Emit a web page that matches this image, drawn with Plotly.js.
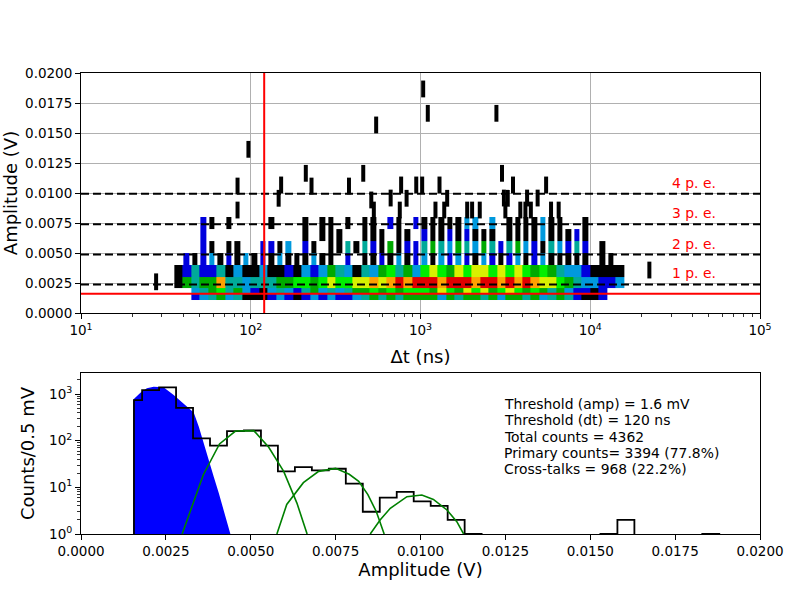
<!DOCTYPE html>
<html><head><meta charset="utf-8">
<script src="https://cdn.plot.ly/plotly-3.0.1.min.js"></script>
<style>html,body{margin:0;padding:0;background:#fff}#chart{width:800px;height:600px}</style>
</head><body><div id="chart"></div>
<script>
// ===== TOP PANEL: Amplitude vs Δt =====
// dense band: columns on a log10(ns) grid, rows between amplitude edges
// colour codes: 0 empty, 1 black, 2 blue, 3 light blue, 4 teal, 5 green, 6 bright green, 7 yellow, 8 orange, 9 red
const cellLog0 = 1.55, cellLogStep = 0.05;
const bandEdges = [0.0011, 0.0017, 0.0021, 0.0030, 0.0040, 0.0050, 0.0060, 0.0070, 0.0080];
const band0 = [0,0, 2,3,4,5,3,4,1,1,1,2,3,2,1,2,3,2,3,2,2,3,4,5,4,5,4,5,5, 5,5,3,5,4,5,5,4,5,3,5,5,4,5,3,4,5,4,2,1,1,2,0,0,0];
const band1 = [0,0, 3,4,5,6,4,5,3,2,1,3,4,3,2,4,5,3,4,3,4,5,5,6,5,6,5,6,6, 6,5,7,6,5,7,6,7,5,6,7,6,5,6,5,4,5,3,2,2,1,2,0,0,0];
const band2 = [1,5, 4,5,5,8,4,4,3,4,4,4,5,5,6,6,5,6,7,6,6,7,7,8,7,8,9,8,9, 9,9,8,9,9,9,8,9,9,8,9,8,9,8,7,7,6,5,4,3,3,2,2,3,0];
const band3 = [1,2, 4,2,2,4,1,3,1,1,3,1,1,2,1,3,2,3,5,4,3,1,4,3,5,6,4,5,3, 6,7,6,5,7,6,7,7,6,7,6,7,6,5,6,5,4,3,3,2,1,1,1,1,0];
const band4 = [0,2, 1,2,3,1,2,1,3,1,2,1,3,1,1,1,3,1,1,0,2,0,1,1,2,1,3,1,2, 3,1,3,2,3,2,1,3,2,1,2,3,1,2,3,1,1,1,1,1,0,1,1,0,0];
const band5 = [0,0, 0,2,1,0,1,1,0,0,2,2,1,3,0,2,1,0,1,1,4,1,4,2,1,5,1,2,2, 4,5,4,3,5,4,3,5,4,2,4,5,3,2,1,4,3,2,4,2,0,1,0,0,0];
const band6 = [0,0, 0,2,0,0,0,0,0,0,0,0,0,0,0,1,0,1,1,1,0,0,1,1,1,0,1,1,0, 2,1,1,2,1,2,1,1,1,0,1,1,1,1,3,1,1,1,2,1,0,0,0,0,0];
const band7 = [0,0, 0,2,1,0,1,0,0,0,0,1,0,0,0,1,0,1,1,0,1,0,1,1,0,2,1,0,2, 1,1,1,1,1,3,3,0,3,0,1,1,1,1,3,1,1,0,0,1,0,0,0,0,0];
const codeColors = ['#000000','#0000dd','#0099dd','#00aa99','#00aa00','#00ee00','#d8f000','#ffa000','#e00000'];

// isolated single events (black bars)
const sparseDt  = [27.7, 96.9, 548, 83.6, 83.6, 151, 146, 211, 228, 379, 460, 513, 531, 667, 769, 828, 944, 755,
                   1037, 1104, 2800, 3020, 1023, 1294, 1436, 3508, 3266, 4246, 4898, 5495, 3100, 1225, 1380,
                   1884, 2014, 2234, 3162, 3873, 4150, 4467, 5875, 6516, 22300];
const sparseAmp = [0.0026, 0.01364, 0.01567, 0.01058, 0.00858, 0.01067, 0.00956, 0.01164, 0.01058, 0.01058, 0.01164, 0.00942, 0.00858, 0.00958, 0.01067, 0.00956, 0.01067, 0.00858,
                   0.01867, 0.01664, 0.01664, 0.01164, 0.01067, 0.01067, 0.00956, 0.01067, 0.00956, 0.00958, 0.00958, 0.01067, 0.00958, 0.00858, 0.00858,
                   0.00858, 0.00858, 0.00858, 0.00858, 0.00858, 0.00858, 0.00858, 0.00858, 0.00858, 0.00358];

const peLevels = [0.00237, 0.00487, 0.00740, 0.00993];
const peLabels = ['1 p. e.', '2 p. e.', '3 p. e.', '4 p. e.'];
const peLabelAmp = [0.0033, 0.00575, 0.0083, 0.0108];
const thrAmp = 0.0016, thrDt = 120;
const dtTickVals = [10, 100, 1000, 10000, 100000];
const dtTickText = ['10<sup>1</sup>','10<sup>2</sup>','10<sup>3</sup>','10<sup>4</sup>','10<sup>5</sup>'];

// ===== BOTTOM PANEL: amplitude spectrum =====
const histFirstEdge = 0.00156, histStart = 0.0018, histWidth = 0.0005;
const histCounts = [740,1210,1390,505,112,78,160,165,78,22,27,23,25,12,3,6,8,5,4,2,1, 0,0,0,0,0,0,0, 1,2, 0,0,0,0, 1];
const blueX = [0.00155,0.00175,0.00194,0.00214,0.00243,0.00273,0.00302,0.00332,0.00347,0.00361,0.00376,0.00391,0.00406,0.00420,0.00432,0.00440];
const blueY = [769,1066,1320,1435,1390,951,630,400,199,88,38.5,16.9,7.45,3.27,1.7,1.0];
const g2X = [0.00298,0.00323,0.00360,0.00408,0.00455,0.00509,0.00553,0.00597,0.00636,0.00666];
const g2Y = [1,3.3,18.4,85,161,164,72,22,4.6,1];
const g3X = [0.00577,0.00606,0.00655,0.00700,0.00750,0.00790,0.00818,0.00845,0.00870,0.00893];
const g3Y = [1,4.3,12.6,22,25.5,19,13.5,7,3,1];
const g4X = [0.00852,0.00881,0.00911,0.00960,0.01004,0.01038,0.01078,0.01107,0.01127];
const g4Y = [1,2.0,3.55,6.3,6.85,5.5,3.27,1.84,1];
const infoLines = ['Threshold (amp) = 1.6 mV','Threshold (dt) = 120 ns','Total counts = 4362','Primary counts= 3394 (77.8%)','Cross-talks = 968 (22.2%)'];
const countTickVals = [1, 10, 100, 1000];
const countTickText = ['10<sup>0</sup>','10<sup>1</sup>','10<sup>2</sup>','10<sup>3</sup>'];

// ---------- build traces ----------
const bands = [band0, band1, band2, band3, band4, band5, band6, band7];
const nCols = band0.length;
const cellEdges = [];
for (let j = 0; j <= nCols; j++) cellEdges.push(Math.pow(10, cellLog0 + cellLogStep * j));
const toZ = rows => rows.map(r => r.map(v => v === 0 ? null : v));
const cs = [];
codeColors.forEach((c, i) => { cs.push([i / 9, c]); cs.push([(i + 1) / 9, c]); });

const traces = [];
traces.push({type:'heatmap', x: cellEdges, y: bandEdges.slice(0, 5), z: toZ(bands.slice(0, 4)), colorscale: cs,
  zmin: 0.5, zmax: 9.5, showscale: false, hoverinfo: 'skip', xaxis: 'x', yaxis: 'y'});
traces.push({type:'heatmap', x: cellEdges, y: bandEdges.slice(4), z: toZ(bands.slice(4)), colorscale: cs,
  zmin: 0.5, zmax: 9.5, xgap: 3, showscale: false, hoverinfo: 'skip', xaxis: 'x', yaxis: 'y'});
traces.push({type:'scatter', mode:'markers', x: sparseDt, y: sparseAmp, xaxis:'x', yaxis:'y', hoverinfo:'skip',
  marker:{symbol:'line-ns', size:12, color:'#000', line:{width:4, color:'#000'}}});
peLevels.forEach(v => traces.push({type:'scatter', mode:'lines', x:[10, 100000], y:[v, v], xaxis:'x', yaxis:'y',
  hoverinfo:'skip', line:{color:'#000', width:2, dash:'8px,4px'}}));
traces.push({type:'scatter', mode:'lines', x:[10, 100000], y:[thrAmp, thrAmp], xaxis:'x', yaxis:'y', hoverinfo:'skip', line:{color:'#ff0000', width:2}});
traces.push({type:'scatter', mode:'lines', x:[thrDt, thrDt], y:[0, 0.02], xaxis:'x', yaxis:'y', hoverinfo:'skip', line:{color:'#ff0000', width:2}});

// bottom
const floorVal = 0.1;
const plotCount = c => c > 0 ? c : floorVal;
const edges = [histFirstEdge];
for (let i = 1; i <= histCounts.length; i++) edges.push(histStart + histWidth * (i - 1));
const stepX = [edges[0]], stepY = [floorVal];
histCounts.forEach((c, i) => { stepX.push(edges[i]); stepY.push(plotCount(c)); });
stepX.push(edges[histCounts.length]); stepY.push(floorVal);

traces.push({type:'scatter', mode:'lines', x:[blueX[0]].concat(blueX, [blueX[blueX.length-1]]),
  y:[floorVal].concat(blueY, [floorVal]), fill:'toself', fillcolor:'#0000ff', line:{width:0, color:'#0000ff'},
  xaxis:'x2', yaxis:'y2', hoverinfo:'skip'});
traces.push({type:'scatter', mode:'lines', x: stepX, y: stepY, line:{shape:'hv', color:'#000', width:1.8},
  xaxis:'x2', yaxis:'y2', hoverinfo:'skip'});
[[g2X,g2Y],[g3X,g3Y],[g4X,g4Y]].forEach(g => traces.push({type:'scatter', mode:'lines', x:g[0], y:g[1],
  line:{color:'#008000', width:1.6}, xaxis:'x2', yaxis:'y2', hoverinfo:'skip'}));

// minor ticks
const minorDt = [], minorCounts = [];
for (let e = 1; e < 5; e++) for (let d = 2; d <= 9; d++) minorDt.push(d * Math.pow(10, e));
for (let e = 0; e < 4; e++) for (let d = 2; d <= 9; d++) { const v = d * Math.pow(10, e); if (v < 2800) minorCounts.push(v); }

const tickFont = {size: 13.5, family: 'DejaVu Sans', color: '#000'};
const titleFont = {size: 18, family: 'DejaVu Sans', color: '#000'};
const common = {ticks:'outside', ticklen:5, tickwidth:1, tickcolor:'#000', showline:true, linecolor:'#000',
  linewidth:1, mirror:true, zeroline:false, tickfont: tickFont};
const minorCommon = {tickmode:'array', ticks:'outside', ticklen:3, tickwidth:0.8, tickcolor:'#000', showgrid:false};

const annotations = [];
peLabels.forEach((t, i) => annotations.push({text:t, xref:'paper', x:0.867, xanchor:'left', yref:'y', y:peLabelAmp[i],
  yanchor:'middle', showarrow:false, font:{size:13.9, color:'#ff0000', family:'DejaVu Sans'}}));
infoLines.forEach((t, i) => annotations.push({text:t, xref:'x2', x:0.01241, xanchor:'left', yref:'paper',
  y:(600 - (404 + 16.3 * i)) / 600, yanchor:'middle', showarrow:false, font:{size:13.9, color:'#000', family:'DejaVu Sans'}}));

const layout = {
  width: 800, height: 600, margin:{l:81, r:40, t:0, b:0}, paper_bgcolor:'#fff', plot_bgcolor:'#fff',
  showlegend:false, font:{family:'DejaVu Sans', color:'#000'},
  xaxis: Object.assign({}, common, {type:'log', range:[1,5], domain:[0,1], anchor:'y', tickmode:'array',
    tickvals: dtTickVals, ticktext: dtTickText, showgrid:true, gridcolor:'#b0b0b0', gridwidth:1,
    minor: Object.assign({}, minorCommon, {tickvals: minorDt}),
    title:{text:'Δt (ns)', font:titleFont, standoff:13}}),
  yaxis: Object.assign({}, common, {domain:[0.47833, 0.87833], range:[0,0.02], anchor:'x', tick0:0, dtick:0.0025,
    tickformat:'.4f', showgrid:true, gridcolor:'#b0b0b0', gridwidth:1,
    title:{text:'Amplitude (V)', font:titleFont, standoff:11}}),
  xaxis2: Object.assign({}, common, {domain:[0,1], anchor:'y2', range:[0,0.02], tick0:0, dtick:0.0025,
    tickformat:'.4f', showgrid:false, title:{text:'Amplitude (V)', font:titleFont, standoff:2}}),
  yaxis2: Object.assign({}, common, {domain:[0.11, 0.37833], anchor:'x2', type:'log', range:[0,3.45],
    tickmode:'array', tickvals: countTickVals, ticktext: countTickText, showgrid:false,
    minor: Object.assign({}, minorCommon, {tickvals: minorCounts}),
    title:{text:'Counts/0.5 mV', font:titleFont, standoff:9}}),
  annotations: annotations
};
Plotly.newPlot('chart', traces, layout, {staticPlot:true, displayModeBar:false});
</script></body></html>
